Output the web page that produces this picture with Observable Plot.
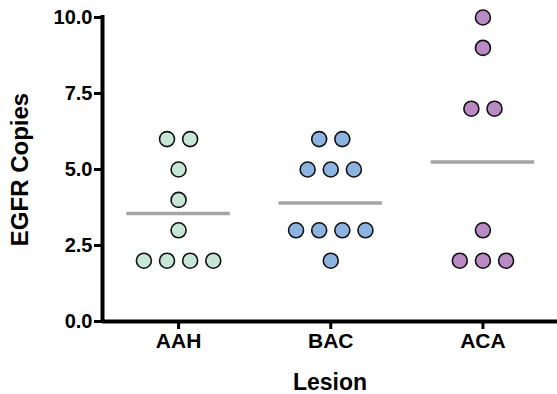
<!DOCTYPE html>
<html>
<head>
<meta charset="utf-8">
<script src="https://cdn.jsdelivr.net/npm/d3@7"></script>
<script src="https://cdn.jsdelivr.net/npm/@observablehq/plot@0.6"></script>
<style>
  html, body { margin: 0; padding: 0; background: #fff; }
  svg { font-family: "Liberation Sans", Arial, sans-serif; }
</style>
</head>
<body>
<div id="chart"></div>
<script>
const lesions = ["AAH", "BAC", "ACA"];
const aahValues = [6, 6, 5, 4, 3, 2, 2, 2, 2];
const bacValues = [6, 6, 5, 5, 5, 3, 3, 3, 3, 2];
const acaValues = [10, 9, 7, 7, 3, 2, 2, 2];
const meanValues = [3.55, 3.9, 5.25];
const fillColors = ["#c8e6d6", "#8db4e0", "#b98ac4"];
const yTicks = [0, 2.5, 5, 7.5, 10];

const groups = [aahValues, bacValues, acaValues];
const dotStep = 0.152; // horizontal spacing of tied points, in category units

// scatter layout: tied values spread side by side around the category center
const points = [];
groups.forEach((vals, gi) => {
  const counts = d3.rollup(vals, v => v.length, v => v);
  const seen = new Map();
  vals.forEach(v => {
    const n = counts.get(v);
    const k = seen.get(v) || 0;
    seen.set(v, k + 1);
    points.push({x: gi + (k - (n - 1) / 2) * dotStep, y: v, fill: fillColors[gi]});
  });
});
const means = meanValues.map((m, i) => ({i, m}));

const chart = Plot.plot({
  width: 557,
  height: 394,
  marginTop: 17,
  marginBottom: 73,
  marginLeft: 102,
  marginRight: 0,
  x: {domain: [-0.5, 2.49], axis: null},
  y: {domain: [0, 10], axis: null},
  color: {type: "identity"},
  marks: [
    Plot.axisY({
      ticks: yTicks,
      tickFormat: d => d.toFixed(1),
      tickSize: 8,
      tickPadding: 2,
      strokeWidth: 3,
      fontSize: 20,
      fontWeight: "bold",
      fill: "#000",
      stroke: "#000",
      label: null
    }),
    Plot.axisX({
      ticks: [0, 1, 2],
      tickFormat: i => lesions[i],
      tickSize: 8,
      tickPadding: 4,
      strokeWidth: 3,
      fontSize: 21,
      fontWeight: "bold",
      fill: "#000",
      stroke: "#000",
      label: null
    }),
    Plot.ruleX([-0.5], {y1: 0, y2: 10, stroke: "black", strokeWidth: 4, strokeLinecap: "square"}),
    Plot.ruleY([0], {stroke: "black", strokeWidth: 4}),
    Plot.ruleY(means, {y: "m", x1: d => d.i - 0.34, x2: d => d.i + 0.34, stroke: "#a4a4a4", strokeWidth: 3.5}),
    Plot.dot(points, {x: "x", y: "y", r: 7.5, fill: "fill", stroke: "#111", strokeWidth: 1.6}),
    Plot.text(["Lesion"], {frameAnchor: "bottom", dy: 68, lineAnchor: "bottom", fontSize: 23, fontWeight: "bold", fill: "#000"}),
    Plot.text(["EGFR Copies"], {frameAnchor: "left", textAnchor: "middle", dx: -82, rotate: -90, fontSize: 24, fontWeight: "bold", fill: "#000"})
  ]
});
document.getElementById("chart").appendChild(chart);
</script>
</body>
</html>
